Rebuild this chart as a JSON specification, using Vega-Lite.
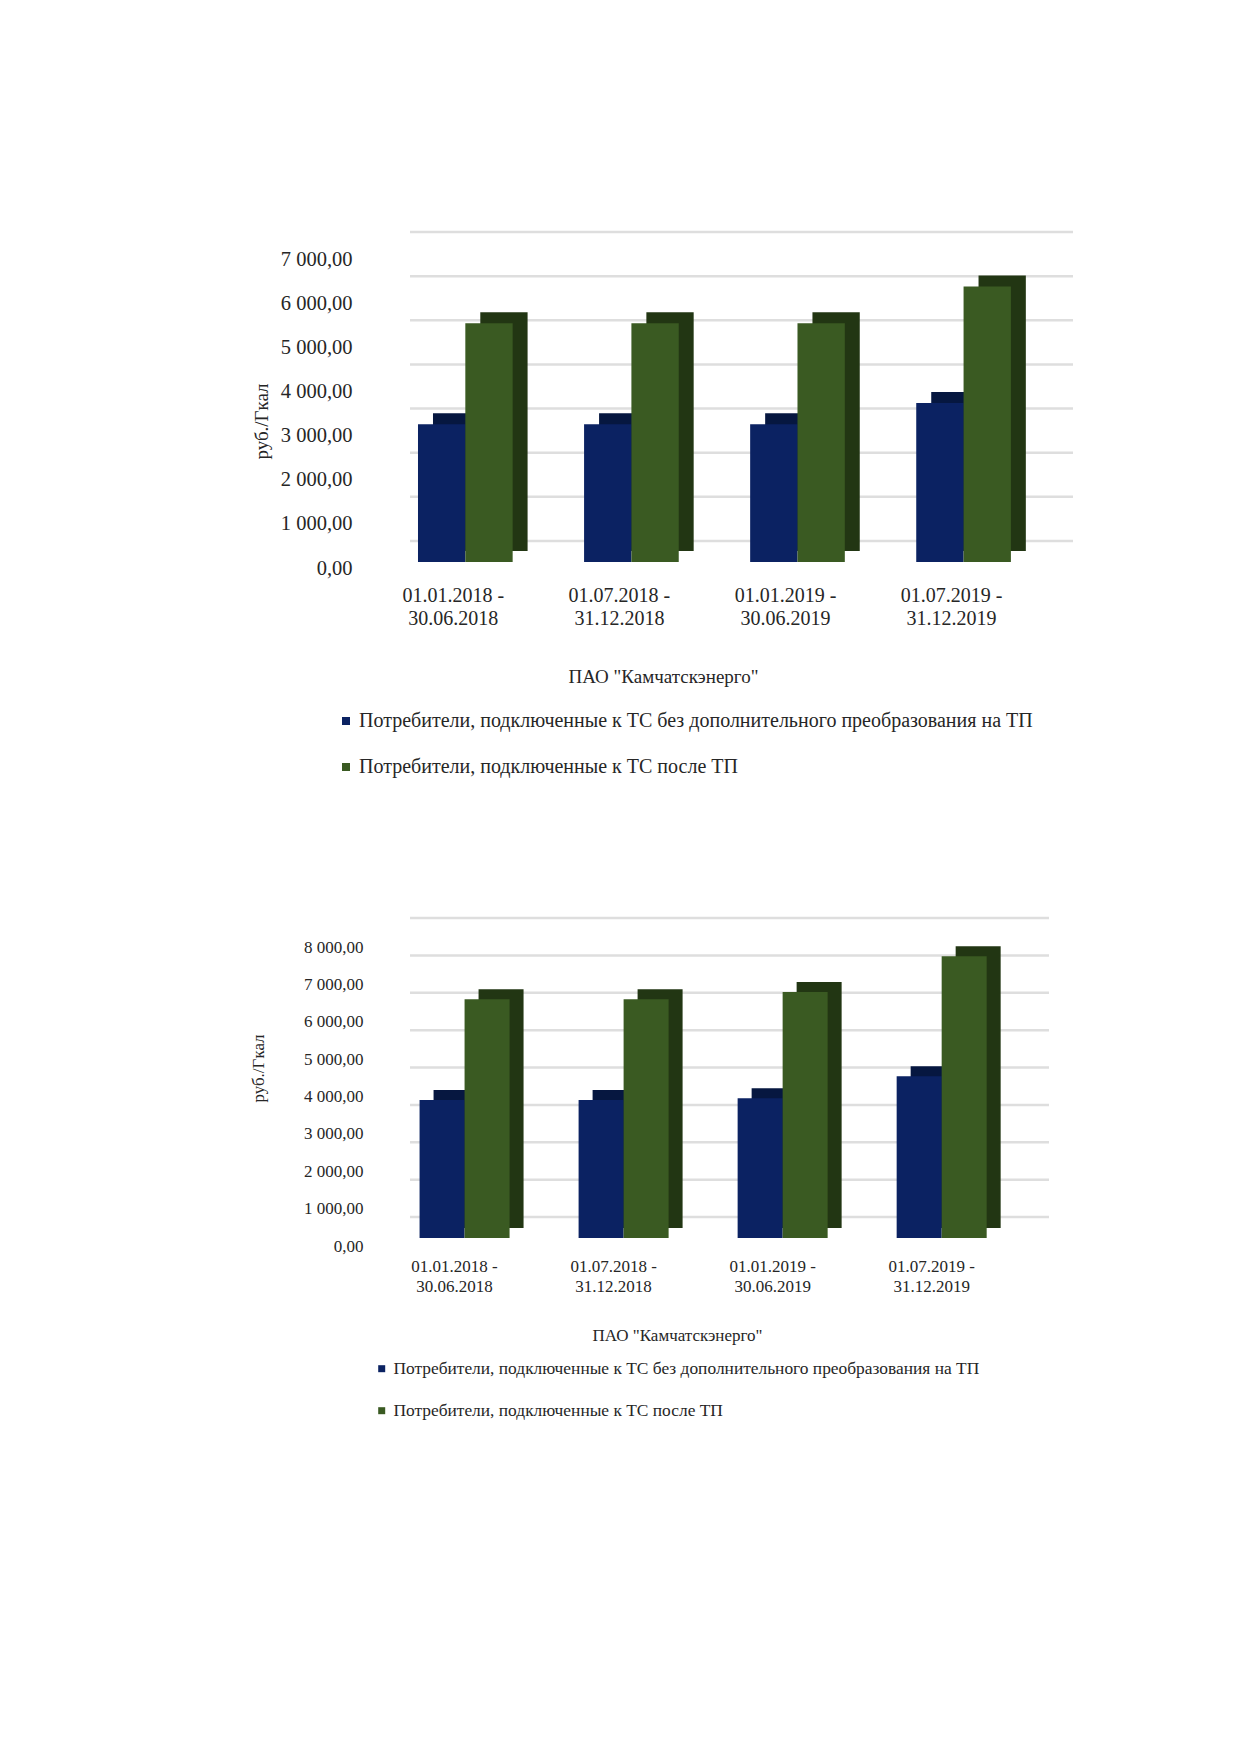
{
  "$schema": "https://vega.github.io/schema/vega-lite/v6.json",
  "background": "white",
  "padding": {"left": 249, "top": 230, "right": 10, "bottom": 10},
  "datasets": {
    "tariffs_1": [
      {"period": "01.01.2018 - 30.06.2018", "series": "Потребители, подключенные к ТС без дополнительного преобразования на ТП", "value": 3120},
      {"period": "01.01.2018 - 30.06.2018", "series": "Потребители, подключенные к ТС после ТП", "value": 5410},
      {"period": "01.07.2018 - 31.12.2018", "series": "Потребители, подключенные к ТС без дополнительного преобразования на ТП", "value": 3120},
      {"period": "01.07.2018 - 31.12.2018", "series": "Потребители, подключенные к ТС после ТП", "value": 5410},
      {"period": "01.01.2019 - 30.06.2019", "series": "Потребители, подключенные к ТС без дополнительного преобразования на ТП", "value": 3120},
      {"period": "01.01.2019 - 30.06.2019", "series": "Потребители, подключенные к ТС после ТП", "value": 5410},
      {"period": "01.07.2019 - 31.12.2019", "series": "Потребители, подключенные к ТС без дополнительного преобразования на ТП", "value": 3600},
      {"period": "01.07.2019 - 31.12.2019", "series": "Потребители, подключенные к ТС после ТП", "value": 6240}
    ],
    "tariffs_2": [
      {"period": "01.01.2018 - 30.06.2018", "series": "Потребители, подключенные к ТС без дополнительного преобразования на ТП", "value": 3690},
      {"period": "01.01.2018 - 30.06.2018", "series": "Потребители, подключенные к ТС после ТП", "value": 6390},
      {"period": "01.07.2018 - 31.12.2018", "series": "Потребители, подключенные к ТС без дополнительного преобразования на ТП", "value": 3690},
      {"period": "01.07.2018 - 31.12.2018", "series": "Потребители, подключенные к ТС после ТП", "value": 6390},
      {"period": "01.01.2019 - 30.06.2019", "series": "Потребители, подключенные к ТС без дополнительного преобразования на ТП", "value": 3740},
      {"period": "01.01.2019 - 30.06.2019", "series": "Потребители, подключенные к ТС после ТП", "value": 6580},
      {"period": "01.07.2019 - 31.12.2019", "series": "Потребители, подключенные к ТС без дополнительного преобразования на ТП", "value": 4330},
      {"period": "01.07.2019 - 31.12.2019", "series": "Потребители, подключенные к ТС после ТП", "value": 7540}
    ],
    "grid_1": [{"tick": 0}, {"tick": 1000}, {"tick": 2000}, {"tick": 3000}, {"tick": 4000}, {"tick": 5000}, {"tick": 6000}, {"tick": 7000}],
    "grid_2": [{"tick": 0}, {"tick": 1000}, {"tick": 2000}, {"tick": 3000}, {"tick": 4000}, {"tick": 5000}, {"tick": 6000}, {"tick": 7000}, {"tick": 8000}]
  },
  "vconcat": [
    {
      "width": 663,
      "height": 309,
      "layer": [
        {
          "data": {"name": "grid_1"},
          "mark": {"type": "rule", "color": "#dedede", "strokeWidth": 2.5, "yOffset": -21},
          "encoding": {
            "y": {
              "field": "tick", "type": "quantitative", "scale": {"domain": [0, 7000], "nice": false},
              "axis": {
                "values": [0, 1000, 2000, 3000, 4000, 5000, 6000, 7000], "format": ",.2f", "labelOverlap": false,
                "labelFontSize": 20.5, "labelPadding": 58, "labelOffset": 6,
                "title": "руб./Гкал", "titleFontSize": 19, "titleFontWeight": "normal",
                "titleX": -149, "titleY": 168, "titleBaseline": "middle", "titleAlign": "center"
              }
            }
          }
        },
        {
          "data": {"name": "tariffs_1"},
          "mark": {"type": "bar", "yOffset": -11, "y2Offset": -11},
          "encoding": {
            "x": {
              "field": "period", "type": "nominal", "sort": null,
              "scale": {"paddingInner": 0.43, "paddingOuter": 0.211, "align": 0.114},
              "axis": {
                "labelExpr": "[substring(datum.label, 0, 12), substring(datum.label, 13)]",
                "labelAngle": 0, "labelPadding": 23, "labelFontSize": 20, "labelLineHeight": 23, "labelOffset": -12,
                "title": "ПАО \"Камчатскэнерго\"", "titleFontSize": 19, "titleFontWeight": "normal",
                "titleX": 253, "titleY": 114, "titleBaseline": "middle", "titleAlign": "center"
              }
            },
            "xOffset": {"field": "series", "type": "nominal", "sort": null, "scale": {"range": [15, 109.6]}},
            "y": {
              "field": "value", "type": "quantitative",
              "axis": {
                "values": [0, 1000, 2000, 3000, 4000, 5000, 6000, 7000], "format": ",.2f", "labelOverlap": false,
                "labelFontSize": 20.5, "labelPadding": 58, "labelOffset": 6,
                "title": "руб./Гкал", "titleFontSize": 19, "titleFontWeight": "normal",
                "titleX": -149, "titleY": 168, "titleBaseline": "middle", "titleAlign": "center"
              }
            },
            "fill": {"field": "series", "type": "nominal", "sort": null, "scale": {"range": ["#061740", "#223613"]}, "legend": null}
          }
        },
        {
          "data": {"name": "tariffs_1"},
          "mark": {"type": "bar"},
          "encoding": {
            "x": {
              "field": "period", "type": "nominal", "sort": null,
              "axis": {
                "labelExpr": "[substring(datum.label, 0, 12), substring(datum.label, 13)]",
                "labelAngle": 0, "labelPadding": 23, "labelFontSize": 20, "labelLineHeight": 23, "labelOffset": -12,
                "title": "ПАО \"Камчатскэнерго\"", "titleFontSize": 19, "titleFontWeight": "normal",
                "titleX": 253, "titleY": 114, "titleBaseline": "middle", "titleAlign": "center"
              }
            },
            "xOffset": {"field": "series", "type": "nominal", "sort": null},
            "y": {
              "field": "value", "type": "quantitative",
              "axis": {
                "values": [0, 1000, 2000, 3000, 4000, 5000, 6000, 7000], "format": ",.2f", "labelOverlap": false,
                "labelFontSize": 20.5, "labelPadding": 58, "labelOffset": 6,
                "title": "руб./Гкал", "titleFontSize": 19, "titleFontWeight": "normal",
                "titleX": -149, "titleY": 168, "titleBaseline": "middle", "titleAlign": "center"
              }
            },
            "color": {
              "field": "series", "type": "nominal", "sort": null,
              "scale": {"range": ["#0b2262", "#3a5a22"]},
              "legend": {
                "title": null, "orient": "none", "legendX": -74, "legendY": 458,
                "direction": "vertical", "symbolType": "square", "symbolSize": 64,
                "labelFontSize": 20, "rowPadding": 26, "labelOffset": 3, "labelLimit": 1000
              }
            }
          }
        }
      ],
      "resolve": {"scale": {"xOffset": "independent"}}
    },
    {
      "width": 639,
      "height": 299,
      "layer": [
        {
          "data": {"name": "grid_2"},
          "mark": {"type": "rule", "color": "#dedede", "strokeWidth": 2.5, "yOffset": -21},
          "encoding": {
            "y": {
              "field": "tick", "type": "quantitative", "scale": {"domain": [0, 8000], "nice": false},
              "axis": {
                "values": [0, 1000, 2000, 3000, 4000, 5000, 6000, 7000, 8000], "format": ",.2f", "labelOverlap": false,
                "labelFontSize": 17, "labelPadding": 47, "labelOffset": 8,
                "title": "руб./Гкал", "titleFontSize": 17, "titleFontWeight": "normal",
                "titleX": -152, "titleY": 129, "titleBaseline": "middle", "titleAlign": "center"
              }
            }
          }
        },
        {
          "data": {"name": "tariffs_2"},
          "mark": {"type": "bar", "yOffset": -10, "y2Offset": -10},
          "encoding": {
            "x": {
              "field": "period", "type": "nominal", "sort": null,
              "scale": {"paddingInner": 0.434, "paddingOuter": 0.226, "align": 0.133},
              "axis": {
                "labelExpr": "[substring(datum.label, 0, 12), substring(datum.label, 13)]",
                "labelAngle": 0, "labelPadding": 20, "labelFontSize": 17, "labelLineHeight": 20, "labelOffset": -10,
                "title": "ПАО \"Камчатскэнерго\"", "titleFontSize": 17, "titleFontWeight": "normal",
                "titleX": 267, "titleY": 97, "titleBaseline": "middle", "titleAlign": "center"
              }
            },
            "xOffset": {"field": "series", "type": "nominal", "sort": null, "scale": {"range": [14, 104]}},
            "y": {
              "field": "value", "type": "quantitative",
              "axis": {
                "values": [0, 1000, 2000, 3000, 4000, 5000, 6000, 7000, 8000], "format": ",.2f", "labelOverlap": false,
                "labelFontSize": 17, "labelPadding": 47, "labelOffset": 8,
                "title": "руб./Гкал", "titleFontSize": 17, "titleFontWeight": "normal",
                "titleX": -152, "titleY": 129, "titleBaseline": "middle", "titleAlign": "center"
              }
            },
            "fill": {"field": "series", "type": "nominal", "sort": null, "scale": {"range": ["#061740", "#223613"]}, "legend": null}
          }
        },
        {
          "data": {"name": "tariffs_2"},
          "mark": {"type": "bar"},
          "encoding": {
            "x": {
              "field": "period", "type": "nominal", "sort": null,
              "axis": {
                "labelExpr": "[substring(datum.label, 0, 12), substring(datum.label, 13)]",
                "labelAngle": 0, "labelPadding": 20, "labelFontSize": 17, "labelLineHeight": 20, "labelOffset": -10,
                "title": "ПАО \"Камчатскэнерго\"", "titleFontSize": 17, "titleFontWeight": "normal",
                "titleX": 267, "titleY": 97, "titleBaseline": "middle", "titleAlign": "center"
              }
            },
            "xOffset": {"field": "series", "type": "nominal", "sort": null},
            "y": {
              "field": "value", "type": "quantitative",
              "axis": {
                "values": [0, 1000, 2000, 3000, 4000, 5000, 6000, 7000, 8000], "format": ",.2f", "labelOverlap": false,
                "labelFontSize": 17, "labelPadding": 47, "labelOffset": 8,
                "title": "руб./Гкал", "titleFontSize": 17, "titleFontWeight": "normal",
                "titleX": -152, "titleY": 129, "titleBaseline": "middle", "titleAlign": "center"
              }
            },
            "color": {
              "field": "series", "type": "nominal", "sort": null,
              "scale": {"range": ["#0b2262", "#3a5a22"]},
              "legend": {
                "title": null, "orient": "none", "legendX": -37, "legendY": 421,
                "direction": "vertical", "symbolType": "square", "symbolSize": 49,
                "labelFontSize": 17.4, "rowPadding": 23, "labelOffset": 3, "labelLimit": 1000
              }
            }
          }
        }
      ],
      "resolve": {"scale": {"xOffset": "independent"}}
    }
  ],
  "spacing": 377,
  "bounds": "flush",
  "resolve": {"scale": {"color": "independent", "fill": "independent", "x": "independent", "y": "independent", "xOffset": "independent"}},
  "config": {
    "view": {"stroke": null},
    "locale": {"number": {"decimal": ",", "thousands": " ", "grouping": [3], "currency": ["", ""]}},
    "font": "Liberation Serif",
    "axis": {
      "domain": false, "ticks": false, "grid": false,
      "labelFont": "Liberation Serif", "titleFont": "Liberation Serif",
      "labelColor": "#262626", "titleColor": "#262626"
    },
    "legend": {"labelFont": "Liberation Serif", "labelColor": "#262626"}
  }
}
